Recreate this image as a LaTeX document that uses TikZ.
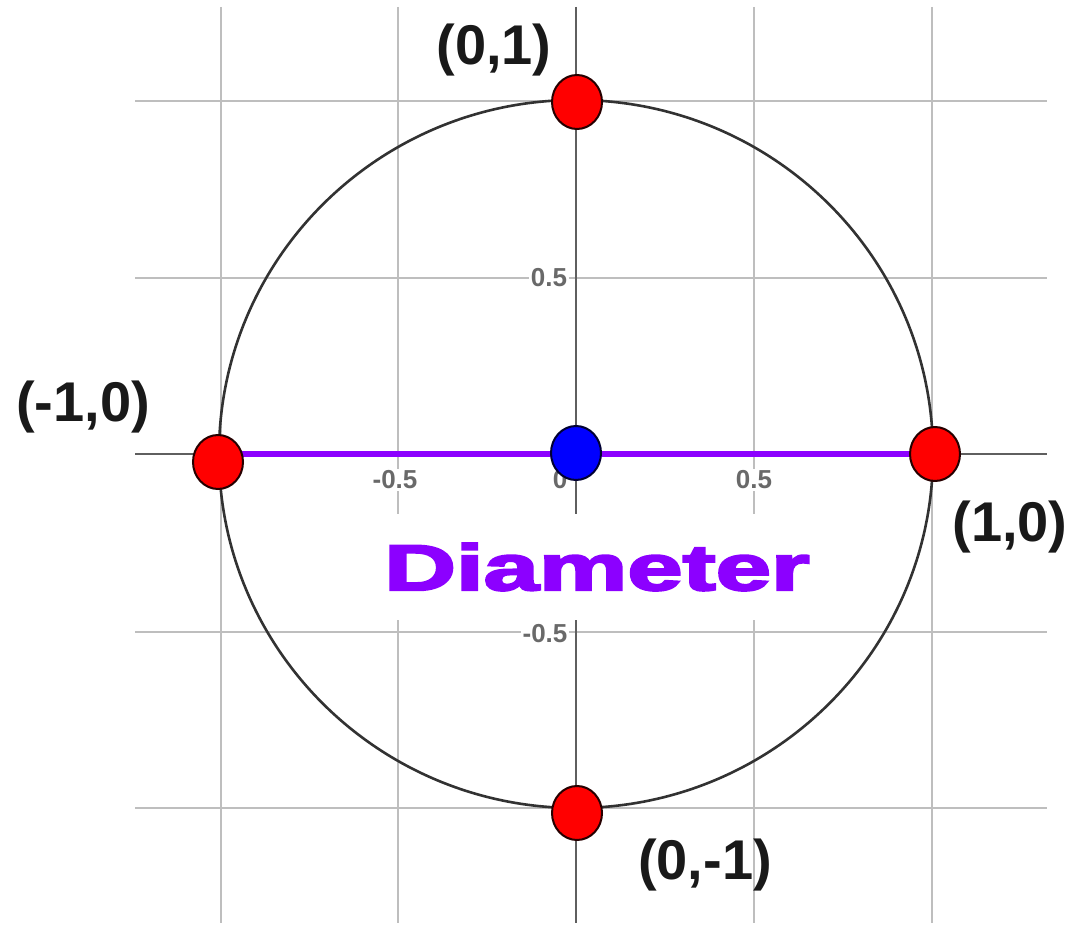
\documentclass[tikz,border=0pt]{standalone}
\usepackage{fontspec}
\setmainfont{Liberation Sans}
\newfontfamily\heavyfont[UprightFont={* Bold}, UprightFeatures={FakeBold=3}]{Liberation Sans}
\usetikzlibrary{shapes.geometric}
\definecolor{gridgray}{RGB}{190,190,190}
\definecolor{axisgray}{RGB}{95,95,95}
\definecolor{circlegray}{RGB}{50,50,50}
\definecolor{diapurple}{RGB}{140,0,255}
\definecolor{ticktext}{RGB}{105,105,105}
\tikzset{
  gridline/.style={draw=gridgray, line width=2pt},
  axisline/.style={draw=axisgray, line width=2.4pt},
  unitcircle/.style={draw=circlegray, line width=2.6pt},
  dotbase/.style={ellipse, draw=black!85!red, line width=2pt, minimum width=50pt, minimum height=54pt, inner sep=0pt},
  reddot/.style={dotbase, fill=red},
  bluedot/.style={dotbase, fill=blue, draw=black!80!blue},
  pointlabel/.style={font=\fontsize{56}{60}\selectfont\bfseries, text=black!90, inner sep=0pt},
  ticklabel/.style={font=\fontsize{26}{28}\selectfont\bfseries, text=ticktext, fill=white, inner sep=2pt},
  diameterline/.style={draw=diapurple, line width=6pt},
}
\begin{document}
\begin{tikzpicture}[x=1pt,y=-1pt]
\useasboundingbox (0,0) rectangle (1080,925);
% grid
\foreach \gx in {221,398,754,932} \draw[gridline] (\gx,7) -- (\gx,923);
\foreach \gy in {101,278,632,808} \draw[gridline] (135,\gy) -- (1047,\gy);
% axes
\draw[axisline] (576,7) -- (576,923);
\draw[axisline] (135,454) -- (1047,454);
% tick labels
\node[ticklabel] (typ) at (549,278) {0.5};
\node[ticklabel] (tym) at (545,634) {-0.5};
\node[ticklabel] (txm) at (395,480) {-0.5};
\node[ticklabel] (tx0) at (560,480) {0};
\node[ticklabel] (txp) at (754,480) {0.5};
% circle
\coordinate (O) at (576,454);
\draw[unitcircle] (O) ellipse [x radius=357pt, y radius=354pt];
% diameter label with white box
\node[fill=white, inner xsep=18pt, minimum height=106pt, text=diapurple] (dia) at (597,567)
  {\scalebox{1.53}[1]{\heavyfont\fontsize{65}{70}\selectfont Diameter}};
% points
\coordinate (Lc) at (218,462);
\coordinate (Rc) at (935,454);
\coordinate (Tc) at (577,102);
\coordinate (Bc) at (577,813);
\draw[diameterline] (Lc |- Rc) -- (Rc);
\node[reddot] (left) at (Lc) {};
\node[reddot] (right) at (Rc) {};
\node[reddot] (top) at (Tc) {};
\node[reddot] (bottom) at (Bc) {};
\node[bluedot] (center) at (576,453) {};
% point labels
\node[pointlabel] (ltop) at (494,50) {(0,1)};
\node[pointlabel] (lleft) at (83,407) {(-1,0)};
\node[pointlabel] (lright) at (1010,527) {(1,0)};
\node[pointlabel] (lbottom) at (705,865) {(0,-1)};
\end{tikzpicture}
\end{document}
